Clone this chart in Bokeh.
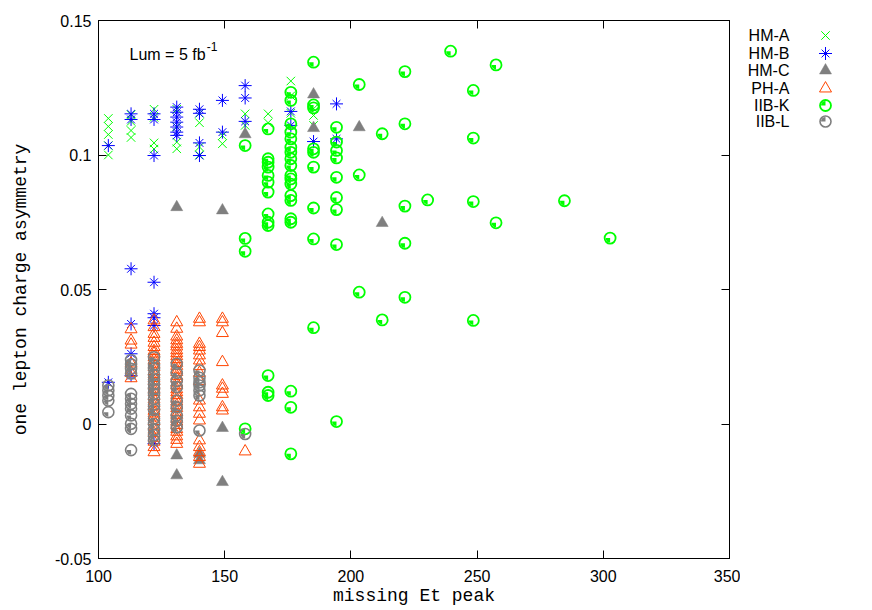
import math
from bokeh.plotting import figure
from bokeh.layouts import row
from bokeh.models import (Range1d, FixedTicker, LinearAxis, Label,
                          CustomJSTickFormatter)
from bokeh.embed import file_html
from bokeh.resources import INLINE

# ---------------- data (x = missing Et peak, y = charge asymmetry) ----------------
hma_cols = [103.9, 112.9, 122.0, 131.0, 140.0, 149.1, 158.1, 167.2, 176.2, 185.2]
hma_vals = [
    [0.1136, 0.1106, 0.1076, 0.1035, 0.1000],
    [0.1150, 0.1125, 0.1091, 0.1065],
    [0.1170, 0.1140, 0.1045, 0.1022],
    [0.1170, 0.1105, 0.1048, 0.1023],
    [0.1155, 0.1120, 0.1030, 0.1000],
    [0.1072, 0.1042],
    [0.1153, 0.1110],
    [0.1153, 0.1120],
    [0.1275, 0.1220, 0.1155],
    [0.1172, 0.1147, 0.1110],
]

hmb_cols = [103.9, 112.9, 122.0, 131.0, 140.0, 149.1, 158.1, 176.2, 185.2, 194.3]
hmb_vals = [
    [0.1035, 0.0155],
    [0.1153, 0.1132, 0.0577, 0.0372, 0.0261, 0.0180],
    [0.1153, 0.1132, 0.0998, 0.0527, 0.0410, 0.0395, 0.0366, -0.0073],
    [0.1178, 0.1159, 0.1141, 0.1122, 0.1104, 0.1085, 0.1073],
    [0.1170, 0.1155, 0.1045, 0.0998],
    [0.1203, 0.1085],
    [0.1258, 0.1212, 0.1125],
    [0.1162, 0.1110],
    [0.1050],
    [0.1190, 0.1060],
]

hmc_cols = [131.0, 140.0, 149.1, 158.1, 185.2, 203.3, 212.4]
hmc_vals = [
    [0.0806, -0.0117, -0.0191],
    [-0.0111, -0.0135],
    [0.0794, -0.0015, -0.0216],
    [0.1077],
    [0.1225, 0.1100],
    [0.1103],
    [0.0747],
]

pha_cols = [112.9, 122.0, 131.0, 140.0, 149.1, 158.1]
pha_vals = [
    [0.0352, 0.0310, 0.0295, 0.0225, 0.0190, 0.0170],
    [0.0385, 0.0360, 0.0335, 0.0320, 0.0302, 0.0286, 0.0271, 0.0262, 0.0249,
     0.0238, 0.0224, 0.0211, 0.0197, 0.0186, 0.0171, 0.0158, 0.0146, 0.0131,
     0.0119, 0.0104, 0.0091, 0.0077, 0.0066, 0.0049, 0.0039, 0.0024, 0.0011,
     -0.0006, -0.0021, -0.0034, -0.0051, -0.0066, -0.0086, -0.0105],
    [0.0378, 0.0354, 0.0325, 0.0311, 0.0298, 0.0288, 0.0274, 0.0263, 0.0252,
     0.0241, 0.0227, 0.0216, 0.0202, 0.0193, 0.0179, 0.0169, 0.0154, 0.0144,
     0.0129, 0.0118, 0.0108, 0.0094, 0.0084, 0.0069, 0.0059, 0.0045, 0.0034,
     0.0019, 0.0009, -0.0004, -0.0019, -0.0029, -0.0046, -0.0059, -0.0074],
    [0.0391, 0.0378, 0.0298, 0.0286, 0.0273, 0.0255, 0.0236, 0.0215, 0.0190,
     0.0160, 0.0087, 0.0062, 0.0038, 0.0013, -0.0061, -0.0086, -0.0105,
     -0.0123, -0.0148],
    [0.0391, 0.0378, 0.0338, 0.0230, 0.0143, 0.0131, 0.0112, 0.0062, 0.0050],
    [-0.0102],
]

iibk_cols = [158.1, 167.2, 176.2, 185.2, 194.3, 203.3, 212.4, 221.4, 230.4,
             239.5, 248.5, 257.5, 284.6, 302.7]
iibk_vals = [
    [0.1035, 0.0690, 0.0642, -0.0018],
    [0.1097, 0.0986, 0.0973, 0.0955, 0.0924, 0.0899, 0.0862, 0.0781, 0.0750,
     0.0738, 0.0180, 0.0118, 0.0106],
    [0.1233, 0.1203, 0.1116, 0.1085, 0.1060, 0.1029, 0.1010, 0.0986, 0.0961,
     0.0924, 0.0911, 0.0892, 0.0849, 0.0831, 0.0763, 0.0750, 0.0122, 0.0062,
     -0.0111],
    [0.1345, 0.1186, 0.1175, 0.1023, 0.1010, 0.0955, 0.0803, 0.0688, 0.0358],
    [0.1103, 0.1048, 0.1017, 0.0989, 0.0917, 0.0842, 0.0797, 0.0667, 0.0009],
    [0.1262, 0.0926, 0.0490],
    [0.1079, 0.0387],
    [0.1310, 0.1116, 0.0810, 0.0672, 0.0471],
    [0.0833],
    [0.1386],
    [0.1240, 0.1063, 0.0827, 0.0385],
    [0.1335, 0.0748],
    [0.0830],
    [0.0691],
]

iibl_cols = [103.9, 112.9, 122.0, 131.0, 140.0, 158.1]
iibl_vals = [
    [0.0143, 0.0125, 0.0106, 0.0087, 0.0044],
    [0.0238, 0.0222, 0.0205, 0.0188, 0.0112, 0.0094, 0.0075, 0.0057, 0.0032,
     0.0001, -0.0018, -0.0097],
    [0.0248, 0.0220, 0.0205, 0.0183, 0.0165, 0.0148, 0.0130, 0.0112, 0.0094,
     0.0072, 0.0052, 0.0020, 0.0000, -0.0022, -0.0042, -0.0060],
    [0.0224, 0.0190, 0.0160, 0.0137, 0.0087, 0.0062, 0.0032, 0.0012, -0.0012],
    [0.0199, 0.0172, 0.0155, 0.0143, 0.0125, 0.0106, -0.0024],
    [-0.0037],
]

series_names = ["HM-A", "HM-B", "HM-C", "PH-A", "IIB-K", "IIB-L"]
x_ticks = [100, 150, 200, 250, 300, 350]
y_ticks = [-0.05, 0, 0.05, 0.1, 0.15]


def flat(cols, vals):
    xs, ys = [], []
    for c, vs in zip(cols, vals):
        xs += [c] * len(vs)
        ys += vs
    return xs, ys


GREEN = "#00ff00"
BLUE = "#0000ff"
GRAY = "#7f7f7f"
ORANGE = "#ff4500"
SANS = "Liberation Sans"
MONO = "Liberation Mono"

MAIN_W, LEG_W, H = 740, 132, 610
TOP, BOTTOM = 20, 52

# marker styles shared by the plot and its key
STYLE_A = dict(marker="x", size=12, line_color=GREEN, line_width=1)
STYLE_B1 = dict(marker="cross", size=13, line_color=BLUE, line_width=1)
STYLE_B2 = dict(marker="x", size=11, line_color=BLUE, line_width=1)
STYLE_C = dict(marker="triangle", size=12, fill_color=GRAY, line_color=GRAY,
               line_width=0.5)
STYLE_P = dict(marker="triangle", size=12, fill_color=None, line_color=ORANGE,
               line_width=1)
STYLE_K = dict(marker="circle", size=11, fill_color=None, line_color=GREEN,
               line_width=1.8)
STYLE_L = dict(marker="circle", size=11, fill_color=None, line_color=GRAY,
               line_width=1.6)
QUARTER = dict(radius=4.5, radius_units="screen", start_angle=math.pi,
               end_angle=1.5 * math.pi, line_color=None)

p = figure(width=MAIN_W, height=H, x_range=Range1d(100, 350),
           y_range=Range1d(-0.05, 0.15), output_backend="svg",
           toolbar_location=None, title=None, min_border_left=98,
           min_border_right=MAIN_W - 729, min_border_top=TOP,
           min_border_bottom=BOTTOM)
p.xgrid.visible = False
p.ygrid.visible = False
p.outline_line_color = "black"
p.outline_line_width = 1
p.background_fill_color = "white"
p.border_fill_color = "white"

# main axes
xa = p.xaxis[0]
ya = p.yaxis[0]
xa.ticker = FixedTicker(ticks=x_ticks)
ya.ticker = FixedTicker(ticks=y_ticks)
ya.formatter = CustomJSTickFormatter(code="return tick.toString();")
for ax in (xa, ya):
    ax.major_tick_in = 8
    ax.major_tick_out = 0
    ax.minor_tick_line_color = None
    ax.axis_line_color = "black"
    ax.major_tick_line_color = "black"
    ax.major_label_text_font = SANS
    ax.major_label_text_font_size = "16px"
    ax.major_label_text_color = "black"
    ax.axis_label_text_font = MONO
    ax.axis_label_text_font_size = "18px"
    ax.axis_label_text_font_style = "normal"
    ax.axis_label_text_color = "black"
xa.major_label_standoff = 11
xa.axis_label = "missing Et peak"
xa.axis_label_standoff = 1
ya.major_label_standoff = 7
ya.axis_label = "one lepton charge asymmetry"
ya.axis_label_standoff = 21

# mirrored ticks (top and right), no labels
for side, tk in (("above", x_ticks), ("right", y_ticks)):
    ax = LinearAxis(ticker=FixedTicker(ticks=tk), major_tick_in=8,
                    major_tick_out=0, minor_tick_line_color=None,
                    major_label_text_font_size="1px",
                    major_label_text_color=None, major_label_standoff=0,
                    axis_line_color="black")
    p.add_layout(ax, side)

# series
x, y = flat(hma_cols, hma_vals)
p.scatter(x, y, **STYLE_A)

x, y = flat(hmb_cols, hmb_vals)
p.scatter(x, y, **STYLE_B1)
p.scatter(x, y, **STYLE_B2)

x, y = flat(hmc_cols, hmc_vals)
p.scatter(x, y, **STYLE_C)

x, y = flat(pha_cols, pha_vals)
p.scatter(x, y, **STYLE_P)

x, y = flat(iibk_cols, iibk_vals)
p.scatter(x, y, **STYLE_K)
p.wedge(x, y, fill_color=GREEN, **QUARTER)

x, y = flat(iibl_cols, iibl_vals)
p.scatter(x, y, **STYLE_L)
p.wedge(x, y, fill_color=GRAY, **QUARTER)

p.add_layout(Label(x=112.3, y=0.1372, text="Lum = 5 fb", text_font=SANS,
                   text_font_size="16px", text_baseline="alphabetic",
                   text_color="black"))
p.add_layout(Label(x=142.9, y=0.1404, text="-1", text_font=SANS,
                   text_font_size="12px", text_baseline="alphabetic",
                   text_color="black"))

# ---------------- key panel (right of the plot) ----------------
# its frame spans the same rows as the main frame; units are panel pixels,
# y counted from the top of the window
lf = figure(width=LEG_W, height=H, x_range=Range1d(0, LEG_W),
            y_range=Range1d(H - BOTTOM, TOP), output_backend="svg",
            toolbar_location=None, title=None, min_border_left=0,
            min_border_right=0, min_border_top=TOP, min_border_bottom=BOTTOM,
            x_axis_location=None, y_axis_location=None)
lf.xgrid.visible = False
lf.ygrid.visible = False
lf.outline_line_color = None
lf.background_fill_color = "white"
lf.border_fill_color = "white"

key_rows = [35, 53, 70, 88, 105, 121]
key_text_x = 49
key_mark_x = 85

for name, ty in zip(series_names, key_rows):
    lf.add_layout(Label(x=key_text_x, y=ty, text=name, text_align="right",
                        text_baseline="middle", text_font=SANS,
                        text_font_size="16px", text_color="black"))

ra, rb, rc, rp, rk, rl = key_rows
lf.scatter([key_mark_x], [ra], **STYLE_A)
lf.scatter([key_mark_x], [rb], **STYLE_B1)
lf.scatter([key_mark_x], [rb], **STYLE_B2)
lf.scatter([key_mark_x], [rc], **STYLE_C)
lf.scatter([key_mark_x], [rp], **STYLE_P)
lf.scatter([key_mark_x], [rk], **STYLE_K)
lf.wedge([key_mark_x], [rk], fill_color=GREEN, radius=4.5,
         radius_units="screen", start_angle=0.5 * math.pi,
         end_angle=math.pi, line_color=None)
lf.scatter([key_mark_x], [rl], **STYLE_L)
lf.wedge([key_mark_x], [rl], fill_color=GRAY, radius=4.5,
         radius_units="screen", start_angle=0.5 * math.pi,
         end_angle=math.pi, line_color=None)

layout = row(p, lf)
open("out.html", "w").write(file_html(layout, INLINE))
